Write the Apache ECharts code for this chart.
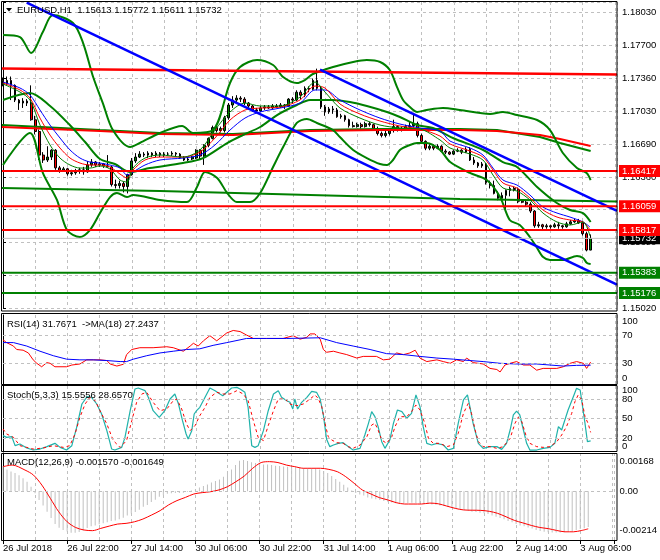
<!DOCTYPE html>
<html><head><meta charset="utf-8">
<script src="https://cdn.jsdelivr.net/npm/echarts/dist/echarts.min.js"></script>
<style>html,body{margin:0;padding:0;background:#fff}#c{width:660px;height:560px}</style>
</head><body><div id="c"></div>
<script>
const FONT = 'Liberation Sans';
const FS = 9.5;
const XMAX = 152.55;

const mainTitle = 'EURUSD,H1  1.15613 1.15772 1.15611 1.15732';
const rsiTitle = 'RSI(14) 31.7671  ->MA(18) 27.2437';
const stochTitle = 'Stoch(5,3,3) 15.5556 28.6570';
const macdTitle = 'MACD(12,26,9) -0.001570 -0.001649';

const xLabels = ['26 Jul 2018','26 Jul 22:00','27 Jul 14:00','30 Jul 06:00','30 Jul 22:00','31 Jul 14:00','1 Aug 06:00','1 Aug 22:00','2 Aug 14:00','3 Aug 06:00'];
const yTickLabels = ['1.15020','1.15350','1.15690','1.16020','1.16360','1.16690','1.17030','1.17360','1.17700','1.18030'];
const Y_MIN = 1.1502, Y_STEP = 0.003345, Y_MAX = 1.181388;
const rsiTicks = [0,30,70,100];
const stochTicks = [0,20,50,80,100];
const macdTicks = [-0.00214, 0, 0.00168];
const macdTickLabels = ['-0.00214','0.00','0.00168'];

const opens = [1.1734,1.1731,1.1734,1.1729,1.1714,1.1711,1.1713,1.1711,1.1694,1.1682,
1.1658,1.1653,1.1656,1.1663,1.1645,1.1642,1.1644,1.1639,1.1640,1.1642,
1.1643,1.1641,1.1648,1.1651,1.1648,1.1649,1.1647,1.1646,1.1628,1.1627,
1.1629,1.1626,1.1638,1.1652,1.1656,1.1659,1.1658,1.1660,1.1658,1.1660,
1.1658,1.1659,1.1659,1.1660,1.1659,1.1655,1.1653,1.1654,1.1655,1.1663,
1.1657,1.1668,1.1675,1.1686,1.1683,1.1683,1.1696,1.1709,1.1714,1.1716,
1.1715,1.1711,1.1708,1.1704,1.1703,1.1706,1.1707,1.1706,1.1708,1.1707,
1.1709,1.1708,1.1715,1.1714,1.1722,1.1719,1.1726,1.1725,1.1734,1.1726,
1.1707,1.1702,1.1705,1.1704,1.1697,1.1698,1.1694,1.1688,1.1687,1.1689,
1.1687,1.1690,1.1689,1.1685,1.1680,1.1678,1.1680,1.1683,1.1687,1.1684,
1.1685,1.1687,1.1688,1.1690,1.1678,1.1672,1.1665,1.1667,1.1665,1.1667,
1.1662,1.1661,1.1659,1.1662,1.1663,1.1661,1.1664,1.1653,1.1650,1.1647,
1.1649,1.1630,1.1627,1.1619,1.1614,1.1617,1.1622,1.1624,1.1623,1.1611,
1.1610,1.1608,1.1601,1.1586,1.1587,1.1585,1.1586,1.1585,1.1587,1.1586,
1.1585,1.1588,1.1590,1.1591,1.1589,1.1578,1.15613];
const closes = [1.1731,1.1734,1.1729,1.1714,1.1711,1.1713,1.1711,1.1694,1.1682,1.1658,
1.1653,1.1656,1.1663,1.1645,1.1642,1.1644,1.1639,1.1640,1.1642,1.1643,
1.1641,1.1648,1.1651,1.1648,1.1649,1.1647,1.1646,1.1628,1.1627,1.1629,
1.1626,1.1638,1.1652,1.1656,1.1659,1.1658,1.1660,1.1658,1.1660,1.1658,
1.1659,1.1659,1.1660,1.1659,1.1655,1.1653,1.1654,1.1656,1.1663,1.1657,
1.1668,1.1675,1.1686,1.1683,1.1685,1.1696,1.1709,1.1714,1.1716,1.1715,
1.1711,1.1708,1.1704,1.1703,1.1706,1.1707,1.1706,1.1708,1.1707,1.1709,
1.1708,1.1715,1.1714,1.1722,1.1719,1.1726,1.1725,1.1734,1.1726,1.1707,
1.1702,1.1705,1.1704,1.1697,1.1698,1.1694,1.1688,1.1687,1.1689,1.1687,
1.1690,1.1689,1.1685,1.1680,1.1678,1.1680,1.1683,1.1687,1.1684,1.1685,
1.1687,1.1688,1.1690,1.1678,1.1672,1.1665,1.1667,1.1665,1.1667,1.1662,
1.1661,1.1659,1.1662,1.1663,1.1661,1.1664,1.1653,1.1650,1.1647,1.1649,
1.1630,1.1627,1.1619,1.1614,1.1617,1.1622,1.1624,1.1623,1.1611,1.1610,
1.1608,1.1601,1.1586,1.1587,1.1585,1.1586,1.1585,1.1587,1.1586,1.1585,
1.1588,1.1590,1.1591,1.1589,1.1578,1.15613,1.15732];
const highs = [1.1737,1.1738,1.1738,1.1730,1.1715,1.1716,1.1715,1.1729,1.1698,1.1684,
1.1661,1.1667,1.1664,1.1664,1.1647,1.1646,1.1645,1.1643,1.1644,1.1645,
1.1646,1.1652,1.1654,1.1652,1.1651,1.1650,1.1658,1.1647,1.1633,1.1632,
1.1631,1.1639,1.1655,1.1660,1.1662,1.1661,1.1662,1.1661,1.1662,1.1661,
1.1661,1.1661,1.1662,1.1661,1.1660,1.1657,1.1656,1.1657,1.1664,1.1664,
1.1669,1.1676,1.1688,1.1688,1.1687,1.1698,1.1711,1.1718,1.1719,1.1718,
1.1717,1.1712,1.1709,1.1706,1.1708,1.1709,1.1709,1.1710,1.1710,1.1711,
1.1710,1.1716,1.1717,1.1724,1.1724,1.1728,1.1728,1.1736,1.1746,1.1728,
1.1709,1.1707,1.1708,1.1706,1.1700,1.1699,1.1695,1.1692,1.1691,1.1691,
1.1692,1.1692,1.1690,1.1687,1.1682,1.1683,1.1685,1.1694,1.1688,1.1687,
1.1689,1.1692,1.1701,1.1692,1.1680,1.1673,1.1669,1.1669,1.1669,1.1668,
1.1664,1.1662,1.1663,1.1665,1.1664,1.1666,1.1666,1.1656,1.1651,1.1651,
1.1650,1.1632,1.1632,1.1621,1.1620,1.1623,1.1626,1.1626,1.1625,1.1613,
1.1613,1.1610,1.1602,1.1590,1.1588,1.1588,1.1587,1.1589,1.1590,1.1587,
1.1590,1.1592,1.1593,1.1593,1.1591,1.1580,1.15772];
const lows = [1.1728,1.1729,1.1714,1.1712,1.1704,1.1706,1.1708,1.1693,1.1679,1.1653,
1.1650,1.1651,1.1653,1.1643,1.1640,1.1641,1.1637,1.1637,1.1638,1.1639,
1.1638,1.1640,1.1646,1.1646,1.1646,1.1645,1.1645,1.1626,1.1624,1.1624,
1.1620,1.1619,1.1637,1.1650,1.1655,1.1656,1.1655,1.1656,1.1656,1.1656,
1.1656,1.1657,1.1657,1.1657,1.1654,1.1652,1.1652,1.1653,1.1654,1.1653,
1.1648,1.1666,1.1674,1.1681,1.1681,1.1681,1.1694,1.1706,1.1712,1.1712,
1.1709,1.1706,1.1702,1.1702,1.1702,1.1704,1.1705,1.1705,1.1706,1.1706,
1.1705,1.1707,1.1710,1.1713,1.1715,1.1717,1.1722,1.1724,1.1724,1.1705,
1.1698,1.1700,1.1700,1.1696,1.1695,1.1692,1.1686,1.1686,1.1686,1.1685,
1.1686,1.1687,1.1683,1.1678,1.1676,1.1676,1.1678,1.1681,1.1682,1.1682,
1.1684,1.1684,1.1686,1.1676,1.1670,1.1663,1.1663,1.1663,1.1664,1.1661,
1.1659,1.1658,1.1658,1.1661,1.1659,1.1660,1.1652,1.1648,1.1645,1.1645,
1.1628,1.1624,1.1618,1.1612,1.1613,1.1600,1.1616,1.1621,1.1609,1.1609,
1.1606,1.1599,1.1584,1.1584,1.1582,1.1583,1.1583,1.1584,1.1583,1.1583,
1.1584,1.1587,1.1589,1.1588,1.1576,1.1560,1.15611];

const bbUpper = [[0,1.17803],[4.22,1.17782],[7.0,1.17619],[9.9,1.17833],[12.4,1.18006],[17.4,1.17925],[19.9,1.17721],[22.4,1.17375],[24.8,1.17110],[27.3,1.16835],[31.6,1.16662],[34.0,1.16703],[39.0,1.16805],[44.5,1.16876],[47.2,1.16805],[52.2,1.16835],[56.4,1.17314],[58.9,1.17477],[63.1,1.17548],[67.1,1.17497],[69.6,1.17375],[73.0,1.17314],[75.0,1.17344],[77.0,1.17406],[82.0,1.17477],[87.0,1.17528],[90.4,1.17548],[93.7,1.17528],[96.1,1.17446],[97.9,1.17273],[99.4,1.17141],[101.1,1.17069],[102.9,1.17019],[105.3,1.17039],[109.3,1.17059],[113.5,1.17039],[121.0,1.16998],[124.2,1.17019],[127.7,1.16988],[132.7,1.16937],[135.9,1.16835],[139.1,1.16601],[142.6,1.16448],[145.0,1.16397],[146,1.16326]];
const bbMiddle = [[0,1.17141],[6.7,1.17212],[11.7,1.17080],[16.6,1.16886],[20.4,1.16713],[24.1,1.16540],[27.8,1.16489],[31.6,1.16408],[36.5,1.16448],[44.7,1.16499],[49.7,1.16550],[55.7,1.16703],[59.6,1.16784],[63.9,1.16866],[68.1,1.16988],[73.0,1.17090],[76.3,1.17141],[82.0,1.17141],[86.2,1.17120],[90.4,1.17080],[95.4,1.17019],[98.6,1.16968],[102.9,1.16886],[106.8,1.16856],[111.8,1.16754],[119.3,1.16632],[124.2,1.16509],[127.7,1.16459],[132.7,1.16255],[137.6,1.16092],[140.9,1.16021],[144.1,1.15990],[146,1.15899]];
const bbLower = [[0,1.16479],[6.7,1.16805],[9.9,1.16398],[13.4,1.16123],[15.9,1.15817],[19.1,1.15746],[21.6,1.15817],[24.1,1.15990],[26.6,1.16153],[28.3,1.16194],[30.8,1.16153],[32.3,1.16173],[39.0,1.16123],[45.7,1.16102],[48.2,1.16255],[50.2,1.16408],[53.2,1.16347],[55.7,1.16194],[58.1,1.16102],[61.4,1.16102],[63.9,1.16194],[67.1,1.16459],[69.6,1.16662],[73.0,1.16907],[75.5,1.16947],[78.0,1.16907],[82.0,1.16835],[83.7,1.16764],[87.0,1.16632],[90.4,1.16550],[93.7,1.16489],[95.4,1.16479],[96.9,1.16530],[98.6,1.16632],[101.1,1.16683],[102.9,1.16703],[105.3,1.16703],[108.6,1.16632],[111.1,1.16509],[116.0,1.16398],[120.2,1.16326],[123.5,1.16153],[125.9,1.15919],[128.4,1.15868],[130.9,1.15746],[132.7,1.15634],[134.2,1.15542],[135.9,1.15512],[139.1,1.15512],[142.6,1.15552],[144.1,1.15532],[145.1,1.15481],[146,1.15471]];

const maSlow = [[0,1.17324],[4.22,1.17263],[6.71,1.17192],[9.19,1.17039],[11.68,1.16886],[14.16,1.16754],[16.65,1.16632],[19.13,1.16550],[21.61,1.16509],[24.1,1.16499],[26.58,1.16479],[29.07,1.16448],[30.81,1.16377],[32.3,1.16408],[35.28,1.16479],[39.0,1.16530],[44.72,1.16550],[48.94,1.16581],[52.67,1.16683],[56.4,1.16835],[60.12,1.16957],[63.85,1.17019],[68.82,1.17059],[73.79,1.17110],[77.52,1.17243],[80.0,1.17243],[83.73,1.17141],[88.7,1.17039],[93.66,1.16957],[98.63,1.16896],[103.6,1.16856],[108.57,1.16825],[111.06,1.16723],[116.02,1.16652],[119.25,1.16581],[121.74,1.16448],[124.22,1.16326],[127.7,1.16275],[130.93,1.16173],[134.16,1.16051],[137.64,1.15990],[140.87,1.15949],[144.1,1.15899],[145.84,1.15848]];
const maMid = [[0,1.17314],[4.22,1.17243],[6.71,1.17161],[9.19,1.16957],[11.68,1.16784],[14.16,1.16652],[16.65,1.16550],[19.13,1.16499],[21.61,1.16479],[24.1,1.16479],[26.58,1.16459],[29.07,1.16387],[30.81,1.16347],[32.3,1.16428],[35.28,1.16530],[39.0,1.16560],[44.72,1.16560],[48.94,1.16611],[52.67,1.16754],[56.4,1.16937],[60.12,1.17039],[63.85,1.17059],[68.82,1.17069],[73.79,1.17141],[77.52,1.17283],[80.0,1.17263],[83.73,1.17100],[88.7,1.16998],[93.66,1.16927],[98.63,1.16876],[103.6,1.16845],[108.57,1.16774],[111.06,1.16693],[116.02,1.16621],[119.25,1.16560],[121.74,1.16428],[124.22,1.16296],[127.7,1.16245],[130.93,1.16143],[134.16,1.16021],[137.64,1.15949],[140.87,1.15919],[144.1,1.15899],[145.84,1.15817]];
const maFast = [[0,1.17304],[4.22,1.17222],[6.71,1.17141],[9.19,1.16886],[11.68,1.16683],[14.16,1.16550],[16.65,1.16479],[19.13,1.16448],[21.61,1.16448],[24.1,1.16469],[26.58,1.16438],[29.07,1.16326],[30.81,1.16306],[32.3,1.16448],[35.28,1.16550],[39.0,1.16581],[44.72,1.16560],[48.94,1.16632],[52.67,1.16835],[56.4,1.17019],[60.12,1.17110],[63.85,1.17080],[68.82,1.17080],[73.79,1.17171],[77.52,1.17324],[80.0,1.17222],[83.73,1.17059],[88.7,1.16957],[93.66,1.16886],[98.63,1.16856],[103.6,1.16845],[108.57,1.16734],[111.06,1.16652],[116.02,1.16591],[119.25,1.16530],[121.74,1.16377],[124.22,1.16245],[127.7,1.16214],[130.93,1.16123],[134.16,1.15990],[137.64,1.15899],[140.87,1.15868],[144.1,1.15899],[145.84,1.15756]];
const longGreenMA = [[-0.37,1.16886],[24.1,1.16835],[39,1.16805],[57.14,1.16795],[76.27,1.16835],[93.66,1.16845],[113.54,1.16845],[122.73,1.16835],[133.42,1.16764],[138.39,1.16703],[146,1.16621]];
const longRedMA = [[-0.37,1.16866],[24.1,1.16825],[39,1.16795],[57.14,1.16784],[76.27,1.16825],[93.66,1.16835],[113.54,1.16835],[122.73,1.16825],[133.42,1.16784],[138.39,1.16744],[146,1.16672]];
const supportGreenLine = [[-0.37,1.16245],[39,1.16214],[76.27,1.16173],[113.54,1.16133],[XMAX,1.16107]];
const resistanceRed = [[-0.37,1.17462],[XMAX,1.17400]];
const channelLower = [[5.89,1.18132],[XMAX,1.15262]];
const channelUpper = [[78.76,1.17451],[XMAX,1.16011]];
const redLevels = [1.16417, 1.16059, 1.15817];
const greenLevels = [1.15383, 1.15176];
const currentPrice = 1.15732;

const rsiMain = [[0,64],[0.9,60],[2.6,55],[3.4,50],[5.0,49],[6.3,45],[7.5,35],[8.4,30],[9.6,25],[10.9,31],[11.7,30],[12.9,25],[15.8,25],[17.1,27.5],[19.1,29],[20.8,35],[22.4,35],[24.1,35],[25.8,34],[26.6,29],[28.3,26],[29.9,28.6],[30.7,42.6],[32.0,50],[34.0,52.6],[37.3,52.6],[40.7,54],[42.3,52.6],[44.8,47.5],[46.5,55],[47.3,59],[48.5,55],[49.8,62.6],[51.4,70],[53.1,62.6],[55.6,74],[57.2,77.6],[58.9,76],[60.5,71],[62.2,66],[65.5,66],[69.6,66],[72.1,70],[73.8,65],[75.5,67.7],[76.3,72.6],[77.5,72.6],[78.8,65],[79.6,50],[80.4,46],[82.1,47.5],[83.7,45],[85.4,42.6],[87.9,37.6],[89.5,40],[92.8,40],[94.5,35],[96.1,36],[97.8,45],[99.5,42.6],[101.1,45],[102.4,49],[103.6,37.6],[105.3,32.5],[107.8,35],[109.4,32.5],[111.1,30],[112.7,35],[114.4,32.5],[115.2,37.6],[116.8,31],[119.3,29],[121.0,22.6],[122.7,21],[123.5,17.4],[124.7,27.5],[126.0,30],[127.6,32.5],[129.3,27.5],[130.9,27.5],[132.6,20],[134.2,22.6],[137.6,22.6],[139.2,25],[140.9,30],[142.5,32.5],[144.2,30],[145,22.6],[146,31.7671]];
const rsiMA = [[0,60],[2.6,60],[5.9,55],[9.2,47.5],[12.5,41],[15.8,36],[19.1,35],[22.4,35],[25.8,34],[29.1,32.5],[30.7,32.5],[32.4,36],[35.7,41],[39.0,45],[42.3,47.5],[45.6,50],[48.9,51],[52.2,56],[55.6,60],[58.9,64],[60.5,66],[65.5,66],[70.5,66],[78.8,67],[82.9,60],[87.0,55],[91.2,50],[95.3,44],[99.5,42.6],[103.6,40],[107.8,37.6],[111.9,36],[116.0,34],[119.3,32.5],[123.5,30],[127.6,29],[132.6,29],[135.9,27.5],[139.2,26],[142.5,27],[146,27.2437]];

const stochK = [[0,23.6],[0.9,21],[2.2,22],[3.0,8.2],[4.2,10.8],[5.9,4.6],[7.5,1.5],[9.2,3],[10.9,6.7],[12.9,11.8],[14.2,5.6],[15.8,1.5],[17.1,8.2],[18.3,36.4],[19.6,72.3],[20.9,83.6],[22.0,82.6],[23.3,72.3],[24.5,56.9],[25.8,31.3],[27.0,3],[27.8,1.5],[29.5,5.6],[30.3,21],[31.6,62],[32.8,95.4],[33.6,96.9],[35.3,92.8],[36.1,82.6],[37.3,62],[38.8,51.8],[40.2,62],[41.5,80],[42.7,87.7],[43.6,72.3],[44.6,46.7],[45.5,26.2],[46.0,18.5],[46.9,31.3],[47.5,56.9],[48.1,62],[48.9,67.2],[50.2,82.6],[51.4,96.9],[52.7,92.8],[53.9,87.7],[54.6,85],[55.6,90.3],[56.8,96.9],[58.1,97.9],[58.9,95.4],[60.1,90.3],[60.9,67.2],[61.8,8.2],[62.6,5.6],[63.4,8.2],[64.7,31.3],[65.9,62],[67.2,87.7],[68.4,92.8],[69.2,82.6],[70.5,77.4],[71.3,74.9],[72.0,64.6],[72.5,80],[73.2,64.6],[74.2,74.9],[75.5,82.6],[76.7,91.8],[77.9,90.3],[78.8,80],[79.6,55],[80.4,18],[81.2,6.7],[82.1,9.2],[83.3,11.8],[84.5,12.8],[85.8,6.7],[87.0,1.5],[88.7,4.1],[89.9,24.6],[90.8,42.6],[91.6,60.5],[92.4,52.8],[93.2,37.4],[94.1,14.4],[94.9,4.1],[96.1,16.9],[97.0,42.6],[98.0,63.1],[99.1,60.5],[100.3,50.3],[101.5,58],[102.6,86.2],[103.6,68.2],[104.4,37.4],[105.3,11.8],[106.5,9.2],[107.8,11.8],[109.4,9.2],[110.6,1.5],[111.9,4.1],[113.1,42.6],[114.4,78.5],[115.4,86.2],[116.0,68.2],[116.8,42.6],[118.1,11.8],[119.3,4.1],[121.0,6.7],[122.7,6.7],[123.9,2.5],[125.1,11.8],[126.0,32.3],[126.8,55.4],[127.6,61.5],[128.4,55.4],[129.3,32.3],[130.1,11.8],[130.9,1.5],[132.6,1.5],[134.2,4.1],[135.9,5.6],[137.1,11.8],[138.0,37.4],[138.8,32.3],[139.6,47.7],[140.4,63.1],[141.7,83.6],[142.5,96.4],[143.4,93.8],[144.0,68.2],[144.6,42.6],[145.2,14.4],[146,15.5556]];
const stochD = [[0,33.8],[0.9,26.2],[2.6,21],[4.2,8.2],[5.9,5.6],[7.5,3],[10.0,4.6],[12.5,8.2],[15.0,5.6],[16.6,8.2],[17.9,26.2],[19.1,51.8],[20.4,72.3],[21.6,82.6],[22.9,77.4],[24.1,62],[25.8,41.5],[27.4,16],[29.1,5.6],[30.7,16],[32.0,46.7],[33.2,74.9],[34.5,87.7],[35.7,90.3],[37.3,74.9],[39.0,62],[40.7,64.6],[42.3,77.4],[43.2,80],[44.4,64.6],[45.6,41.5],[46.5,31.3],[47.7,39],[48.9,54.4],[50.2,67.2],[51.4,82.6],[53.1,90.3],[54.7,87.7],[56.4,87.7],[58.1,92.8],[59.7,87.7],[60.9,77.4],[62.2,46.7],[63.4,21],[64.7,16],[65.9,39],[67.2,62],[68.4,80],[70.1,80],[71.3,72.3],[73.0,69.7],[74.6,72.3],[76.3,80],[77.5,86.2],[78.3,81],[79.2,68.2],[80.0,42.6],[80.8,22],[81.7,16.9],[82.9,12.8],[84.5,11.8],[85.8,6.7],[87.0,4.1],[88.7,9.2],[90.4,22],[91.6,40],[92.4,42.6],[93.2,32.3],[94.1,16.9],[95.3,11.8],[96.6,22],[97.4,37.4],[98.6,52.8],[100.3,52.8],[101.5,60.5],[102.6,70.8],[103.6,63.1],[104.8,42.6],[105.7,19.5],[106.9,11.8],[108.6,11.8],[110.2,6.7],[111.9,9.2],[113.1,27.2],[114.4,58],[115.6,73.3],[116.4,58],[117.3,32.3],[118.1,14.4],[119.3,6.7],[121.0,6.7],[122.7,4.1],[124.3,6.7],[126.0,19.5],[127.2,42.6],[128.0,51.8],[128.9,45.1],[129.9,24.6],[130.9,11.8],[132.6,6.7],[134.2,5.6],[135.9,6.7],[137.6,14.4],[138.8,24.6],[140.0,37.4],[141.3,58],[142.1,75.9],[142.9,86.2],[143.8,78.5],[144.6,52.8],[145.4,42],[146,28.657]];

const macdHist = [0.00111,0.00096,0.00087,0.00080,0.00070,0.00057,0.00042,0.00020,-0.00009,-0.00038,
-0.00062,-0.00090,-0.00117,-0.00144,-0.00160,-0.00170,-0.00177,-0.00182,-0.00182,-0.00179,
-0.00172,-0.00161,-0.00154,-0.00150,-0.00145,-0.00141,-0.00136,-0.00131,-0.00128,-0.00123,
-0.00116,-0.00106,-0.00098,-0.00091,-0.00081,-0.00068,-0.00060,-0.00047,-0.00037,-0.00024,
-0.00018,-0.00011,-0.00009,-0.00008,-0.00008,-0.00006,-0.00003,0.00003,0.00008,0.00016,
0.00023,0.00030,0.00038,0.00045,0.00052,0.00064,0.00079,0.00096,0.00115,0.00134,
0.00137,0.00133,0.00127,0.00124,0.00121,0.00118,0.00117,0.00115,0.00112,0.00111,
0.00109,0.00108,0.00106,0.00105,0.00102,0.00101,0.00101,0.00101,0.00099,0.00096,
0.00089,0.00080,0.00067,0.00054,0.00042,0.00029,0.00016,0.00003,-0.00008,-0.00014,
-0.00019,-0.00027,-0.00032,-0.00035,-0.00038,-0.00043,-0.00046,-0.00049,-0.00053,-0.00053,
-0.00053,-0.00051,-0.00050,-0.00051,-0.00053,-0.00055,-0.00056,-0.00058,-0.00059,-0.00062,
-0.00065,-0.00068,-0.00072,-0.00075,-0.00079,-0.00082,-0.00087,-0.00090,-0.00091,-0.00094,
-0.00097,-0.00100,-0.00106,-0.00112,-0.00117,-0.00123,-0.00131,-0.00136,-0.00144,-0.00150,
-0.00154,-0.00159,-0.00164,-0.00170,-0.00175,-0.00178,-0.00180,-0.00181,-0.00181,-0.00181,
-0.00180,-0.00177,-0.00174,-0.00170,-0.00166,-0.00162,-0.00157];
const macdSignal = [[0,0.00108],[2.3,0.00115],[5.5,0.00093],[7.6,0.00071],[9.7,0.00027],[11.8,-0.00031],[13.9,-0.00090],[16.0,-0.00134],[18.1,-0.00159],[20.2,-0.00170],[22.3,-0.00173],[24.4,-0.00163],[26.5,-0.00153],[28.6,-0.00144],[30.7,-0.00141],[32.8,-0.00134],[34.9,-0.00122],[37.1,-0.00104],[39.2,-0.00085],[41.3,-0.00060],[43.4,-0.00041],[45.5,-0.00027],[47.6,-0.00012],[49.7,-0.00006],[51.8,-0.00002],[53.9,0.00006],[56.0,0.00020],[58.1,0.00042],[60.2,0.00067],[62.3,0.00101],[64.4,0.00126],[66.5,0.00130],[68.6,0.00126],[70.7,0.00115],[72.8,0.00108],[74.9,0.00101],[77.0,0.00101],[79.2,0.00101],[81.3,0.00096],[83.4,0.00086],[85.5,0.00064],[87.6,0.00035],[89.7,0.00005],[91.8,-0.00012],[93.9,-0.00028],[96.0,-0.00038],[98.1,-0.00050],[100.2,-0.00056],[104.4,-0.00056],[106.5,-0.00052],[108.6,-0.00055],[110.7,-0.00065],[112.8,-0.00075],[114.9,-0.00082],[119.2,-0.00084],[121.3,-0.00088],[123.4,-0.00097],[125.5,-0.00112],[127.6,-0.00128],[129.7,-0.00139],[131.8,-0.00150],[133.9,-0.00159],[136.0,-0.00164],[138.1,-0.00172],[140.2,-0.00178],[142.3,-0.00178],[144.4,-0.00172],[146,-0.001649]];

const chart = echarts.init(document.getElementById('c'), null, {renderer: 'canvas'});
const dashed = {color: '#C0C0C0', width: 1, type: [3, 3]};
function xAx(g) {
  return {type: 'value', gridIndex: g, min: 0, max: XMAX, interval: 8,
    axisLine: {show: false}, axisTick: {show: false}, axisLabel: {show: false},
    splitLine: {show: true, lineStyle: dashed}};
}
function lineS(data, color, width, xi, extra) {
  return Object.assign({type: 'line', data: data, xAxisIndex: xi, yAxisIndex: xi,
    showSymbol: false, symbol: 'none', silent: true, clip: false, z: 4,
    lineStyle: {color: color, width: width}}, extra || {});
}
function levels(vals) {
  return {silent: true, symbol: ['none', 'none'], label: {show: false}, animation: false,
    lineStyle: dashed, data: vals.map(v => ({yAxis: v}))};
}
function hLine(v, lineColor, tagColor, width) {
  return lineS([[-0.37, v], [XMAX, v]], lineColor, width, 0, {
    z: 5,
    endLabel: {show: true, formatter: () => v.toFixed(5), backgroundColor: tagColor, color: '#fff',
      fontSize: FS, fontFamily: FONT, padding: [1, 8, 0, 3], distance: 2, lineHeight: 11}
  });
}
const axisLab = {color: '#000', fontSize: FS, fontFamily: FONT, margin: 5};
const richShift = {t: {padding: [13, 0, 0, 0]}, b: {padding: [0, 0, 12, 0]}};

const series = [
  {type: 'candlestick', xAxisIndex: 0, yAxisIndex: 0, silent: true, clip: false, z: 3,
   data: opens.map((o, i) => [i, o, closes[i], lows[i], highs[i]]),
   encode: {x: 0, y: [1, 2, 3, 4]}, barWidth: 2.2,
   itemStyle: {color: '#008000', color0: '#FF0000', borderColor: '#000', borderColor0: '#000', borderWidth: 1}},
  lineS(longGreenMA, '#008000', 2, 0),
  lineS(longRedMA, '#FF0000', 2, 0),
  lineS(supportGreenLine, '#008000', 2, 0),
  lineS(bbUpper, '#008000', 2, 0, {smooth: 0.3}),
  lineS(bbMiddle, '#008000', 2, 0, {smooth: 0.3}),
  lineS(bbLower, '#008000', 2, 0, {smooth: 0.3}),
  lineS(maSlow, '#0000FF', 1, 0, {smooth: 0.3}),
  lineS(maMid, '#FF0000', 1, 0, {smooth: 0.3}),
  lineS(maFast, '#008000', 1, 0, {smooth: 0.3}),
  lineS(resistanceRed, '#FF0000', 2.5, 0, {z: 5}),
  lineS(channelLower, '#0000FF', 2.5, 0, {z: 5}),
  lineS(channelUpper, '#0000FF', 2.5, 0, {z: 5}),
  hLine(currentPrice, '#C0C0C0', '#000000', 1),
  ...redLevels.map(v => hLine(v, '#FF0000', '#FF0000', 2)),
  ...greenLevels.map(v => hLine(v, '#008000', '#008000', 2)),
  lineS(rsiMain, '#FF0000', 1, 1, {markLine: levels([70, 30])}),
  lineS(rsiMA, '#0000FF', 1, 1),
  lineS(stochK, '#20B2AA', 1.2, 2, {markLine: levels([80, 50, 20])}),
  lineS(stochD, '#FF0000', 1, 2, {lineStyle: {color: '#FF0000', width: 1, type: [3, 3]}}),
  {type: 'bar', xAxisIndex: 3, yAxisIndex: 3, silent: true, z: 2, barWidth: 1,
   data: macdHist.map((v, i) => [i, v]), itemStyle: {color: '#C0C0C0'}, markLine: levels([0])},
  lineS(macdSignal, '#FF0000', 1, 3, {smooth: 0.3})
];

const option = {
  animation: false,
  backgroundColor: '#fff',
  textStyle: {fontFamily: FONT},
  title: [
    {text: mainTitle, left: 17, top: 5, padding: 0, textStyle: {fontSize: FS, fontWeight: 'normal', color: '#000', fontFamily: FONT}},
    {text: rsiTitle, left: 7, top: 319, padding: 0, textStyle: {fontSize: FS, fontWeight: 'normal', color: '#000', fontFamily: FONT}},
    {text: stochTitle, left: 7, top: 390, padding: 0, textStyle: {fontSize: FS, fontWeight: 'normal', color: '#000', fontFamily: FONT}},
    {text: macdTitle, left: 7, top: 457, padding: 0, textStyle: {fontSize: FS, fontWeight: 'normal', color: '#000', fontFamily: FONT}}
  ],
  grid: [
    {left: 3, right: 43, top: 2, height: 306.3},
    {left: 3, right: 43, top: 315, height: 69},
    {left: 3, right: 43, top: 386, height: 65},
    {left: 3, right: 43, top: 453, height: 87}
  ],
  xAxis: [xAx(0), xAx(1), xAx(2), xAx(3),
    {type: 'value', gridIndex: 3, min: 0, max: XMAX, interval: 16, position: 'bottom',
     axisLine: {show: false}, axisTick: {show: true, length: 4, lineStyle: {color: '#000'}},
     splitLine: {show: false},
     axisLabel: Object.assign({}, axisLab, {margin: 3, align: 'left', formatter: v => {
       const k = v / 16; return (Number.isInteger(k) && k < xLabels.length) ? xLabels[k] : '';
     }})}
  ],
  yAxis: [
    {type: 'value', gridIndex: 0, position: 'right', min: Y_MIN, max: Y_MAX, interval: Y_STEP,
     axisLine: {show: true, lineStyle: {color: '#000'}}, axisTick: {show: true, length: 3, lineStyle: {color: '#000'}},
     splitLine: {show: true, lineStyle: dashed},
     axisLabel: Object.assign({}, axisLab, {formatter: v => {
       const r = (v - Y_MIN) / Y_STEP, k = Math.round(r);
       return (Math.abs(r - k) < 0.01 && k < yTickLabels.length) ? yTickLabels[k] : '';
     }})},
    {type: 'value', gridIndex: 1, position: 'right', min: 0, max: 100, interval: 10,
     axisLine: {show: true, lineStyle: {color: '#000'}}, axisTick: {show: false}, splitLine: {show: false},
     axisLabel: Object.assign({}, axisLab, {rich: richShift, formatter: v => {
       if (rsiTicks.indexOf(v) < 0) return '';
       return v === 100 ? '{t|100}' : v === 0 ? '{b|0}' : String(v);
     }})},
    {type: 'value', gridIndex: 2, position: 'right', min: 0, max: 100, interval: 10,
     axisLine: {show: true, lineStyle: {color: '#000'}}, axisTick: {show: false}, splitLine: {show: false},
     axisLabel: Object.assign({}, axisLab, {rich: {t: {padding: [8, 0, 0, 0]}, b: {padding: [0, 0, 9, 0]}}, formatter: v => {
       if (stochTicks.indexOf(v) < 0) return '';
       return v === 100 ? '{t|100}' : v === 0 ? '{b|0}' : String(v);
     }})},
    {type: 'value', gridIndex: 3, position: 'right', min: -0.00214, max: 0.00168, interval: 0.00002,
     axisLine: {show: true, lineStyle: {color: '#000'}}, axisTick: {show: false}, splitLine: {show: false},
     axisLabel: Object.assign({}, axisLab, {showMinLabel: true, showMaxLabel: true,
       rich: {t: {padding: [17, 0, 0, 0]}, b: {padding: [0, 0, 19, 0]}}, formatter: v => {
       for (let j = 0; j < macdTicks.length; j++) {
         if (Math.abs(v - macdTicks[j]) < 1e-9) {
           return j === 2 ? '{t|' + macdTickLabels[j] + '}' : j === 0 ? '{b|' + macdTickLabels[j] + '}' : macdTickLabels[j];
         }
       }
       return '';
     }})}
  ],
  graphic: [
    {type: 'polygon', shape: {points: [[6, 8], [12, 8], [9, 11.5]]}, style: {fill: '#000'}, z: 100},
    {type: 'rect', shape: {x: 1.5, y: 1.5, width: 615.5, height: 309.5}, style: {fill: 'none', stroke: '#000', lineWidth: 1}, z: 100, silent: true},
    {type: 'rect', shape: {x: 1.5, y: 313.5, width: 615.5, height: 71}, style: {fill: 'none', stroke: '#000', lineWidth: 1}, z: 100, silent: true},
    {type: 'rect', shape: {x: 1.5, y: 385.5, width: 615.5, height: 66}, style: {fill: 'none', stroke: '#000', lineWidth: 1}, z: 100, silent: true},
    {type: 'rect', shape: {x: 1.5, y: 453.5, width: 615.5, height: 87}, style: {fill: 'none', stroke: '#000', lineWidth: 1}, z: 100, silent: true}
  ],
  series: series
};
chart.setOption(option);
</script>
</body></html>
